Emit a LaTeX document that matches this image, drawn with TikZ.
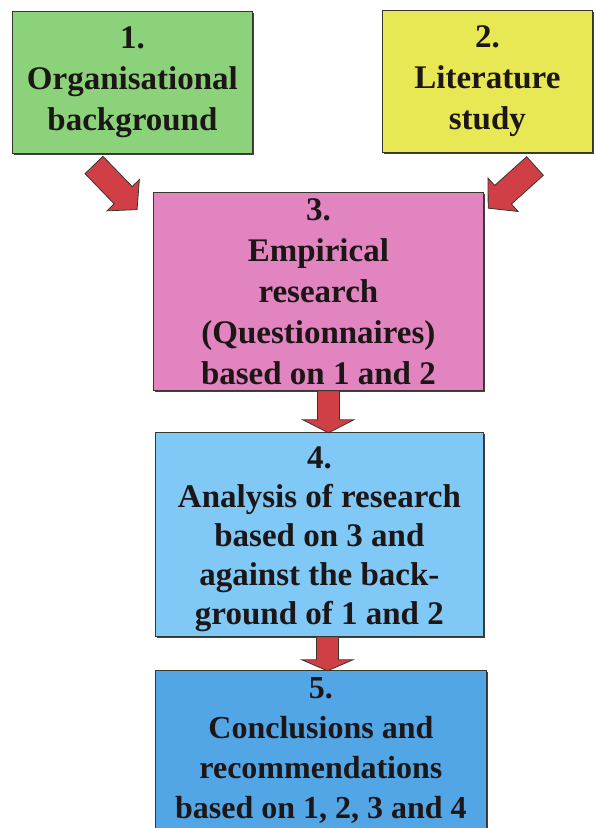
\documentclass[tikz,border=0pt]{standalone}
\usepackage{fontspec}
\setmainfont{Liberation Serif}
\usetikzlibrary{shadows}

\definecolor{boxgreen}{RGB}{140,210,122}
\definecolor{boxyellow}{RGB}{232,232,84}
\definecolor{boxpink}{RGB}{226,132,192}
\definecolor{boxlightblue}{RGB}{128,200,245}
\definecolor{boxblue}{RGB}{82,166,230}
\definecolor{arrowred}{RGB}{208,62,70}
\definecolor{edgedark}{RGB}{55,55,45}
\definecolor{textdark}{RGB}{28,22,22}

\tikzset{
  x=1pt, y=1pt,
  boxtext/.style={
    align=center, inner sep=0pt, text=textdark,
    font=\fontsize{33}{41}\selectfont\bfseries
  },
  stagebox/.style={
    boxtext, rectangle, draw=edgedark, line width=0.8pt, anchor=north west,
    drop shadow={shadow xshift=2pt, shadow yshift=-2pt, fill=black!75, opacity=1}
  },
  % block arrow pointing along +x: length, shaft width, head width, head length
  pics/blockarrow/.style n args={4}{code={
    \filldraw[fill=arrowred, draw=edgedark, line width=0.8pt, line join=miter]
      (0,#2/2) -- (#1-#4,#2/2) -- (#1-#4,#3/2) -- (#1,0)
      -- (#1-#4,-#3/2) -- (#1-#4,-#2/2) -- (0,-#2/2) -- cycle;
  }}
}

\begin{document}
\begin{tikzpicture}
\useasboundingbox (0,0) rectangle (596,-828);
\clip (0,0) rectangle (596,-828);

% stages
\node[stagebox, fill=boxgreen, minimum width=240, minimum height=142] (b1) at (12,-11)
  {1.\\Organisational\\background};
\node[stagebox, fill=boxyellow, minimum width=210, minimum height=142] (b2) at (382,-10)
  {2.\\Literature\\study};
\node[stagebox, fill=boxpink, minimum width=330, minimum height=198] (b3) at (153,-192)
  {3.\\Empirical\\research\\(Questionnaires)\\based on 1 and 2};
\node[stagebox, fill=boxlightblue, minimum width=328, minimum height=204] (b4) at (155,-432) {};
\node[boxtext, font=\fontsize{33}{39}\selectfont\bfseries] (t4) at ([yshift=-5pt]b4.center)
  {4.\\Analysis of research\\based on 3 and\\against the back-\\ground of 1 and 2};
\node[stagebox, fill=boxblue, minimum width=331, minimum height=180] (b5) at (155,-670) {};
\node[boxtext, font=\fontsize{32}{40}\selectfont\bfseries] (t5) at (b5.north |- 0,-750)
  {5.\\Conclusions and\\recommendations\\based on 1, 2, 3 and 4};

% flow arrows
\coordinate (a1) at (94,-165);
\coordinate (a2) at (535,-166);
\coordinate (a3) at ([xshift=10pt]b3.south);
\coordinate (a4) at ([xshift=8pt]b4.south);
\pic[rotate=-46] at (a1) {blockarrow={62}{25}{45}{20}};
\pic[rotate=-138] at (a2) {blockarrow={63}{25}{45}{20}};
\pic[rotate=-90] at (a3) {blockarrow={42}{22}{51}{13}};
\pic[rotate=-90] at (a4) {blockarrow={34}{22}{51}{11}};
\end{tikzpicture}
\end{document}
